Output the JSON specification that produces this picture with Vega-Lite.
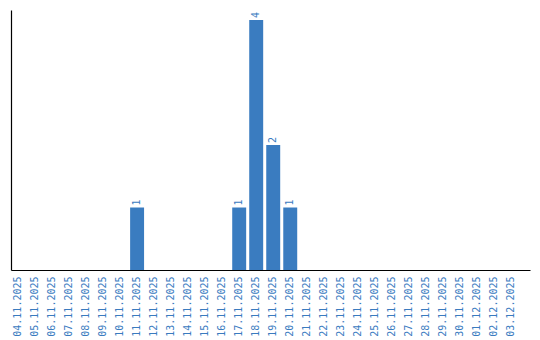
{
  "$schema": "https://vega.github.io/schema/vega-lite/v6.json",
  "width": 519,
  "height": 260,
  "autosize": "none",
  "padding": {"left": 11, "top": 10, "right": 10, "bottom": 70},
  "background": "white",
  "config": {"view": {"stroke": null}, "font": "DejaVu Sans Mono"},
  "data": {"values": [
    {"d": "04.11.2025", "v": 0}, {"d": "05.11.2025", "v": 0}, {"d": "06.11.2025", "v": 0},
    {"d": "07.11.2025", "v": 0}, {"d": "08.11.2025", "v": 0}, {"d": "09.11.2025", "v": 0},
    {"d": "10.11.2025", "v": 0}, {"d": "11.11.2025", "v": 1}, {"d": "12.11.2025", "v": 0},
    {"d": "13.11.2025", "v": 0}, {"d": "14.11.2025", "v": 0}, {"d": "15.11.2025", "v": 0},
    {"d": "16.11.2025", "v": 0}, {"d": "17.11.2025", "v": 1}, {"d": "18.11.2025", "v": 4},
    {"d": "19.11.2025", "v": 2}, {"d": "20.11.2025", "v": 1}, {"d": "21.11.2025", "v": 0},
    {"d": "22.11.2025", "v": 0}, {"d": "23.11.2025", "v": 0}, {"d": "24.11.2025", "v": 0},
    {"d": "25.11.2025", "v": 0}, {"d": "26.11.2025", "v": 0}, {"d": "27.11.2025", "v": 0},
    {"d": "28.11.2025", "v": 0}, {"d": "29.11.2025", "v": 0}, {"d": "30.11.2025", "v": 0},
    {"d": "01.12.2025", "v": 0}, {"d": "02.12.2025", "v": 0}, {"d": "03.12.2025", "v": 0}
  ]},
  "encoding": {
    "x": {
      "field": "d", "type": "nominal", "sort": null,
      "scale": {"paddingInner": 0.18, "paddingOuter": 0.34, "align": 0},
      "axis": {
        "title": null, "labelAngle": -90, "labelAlign": "right", "labelBaseline": "middle",
        "labelFont": "DejaVu Sans Mono", "labelFontSize": 10, "labelColor": "#3a7bbf",
        "labelPadding": 6, "ticks": false, "domainColor": "#000000", "domainWidth": 1.2,
        "grid": false
      }
    },
    "y": {
      "field": "v", "type": "quantitative",
      "scale": {"domain": [0, 4.16], "nice": false},
      "axis": {"title": null, "labels": false, "ticks": false, "grid": false,
               "domainColor": "#000000", "domainWidth": 1.2}
    }
  },
  "layer": [
    {"mark": {"type": "bar", "color": "#3a7cc0"}},
    {
      "transform": [{"filter": "datum.v > 0"}],
      "mark": {"type": "text", "angle": -90, "align": "left", "baseline": "middle",
               "dx": 2, "font": "DejaVu Sans Mono", "fontSize": 10, "color": "#3a7bbf"},
      "encoding": {"text": {"field": "v", "type": "quantitative"}}
    }
  ]
}
